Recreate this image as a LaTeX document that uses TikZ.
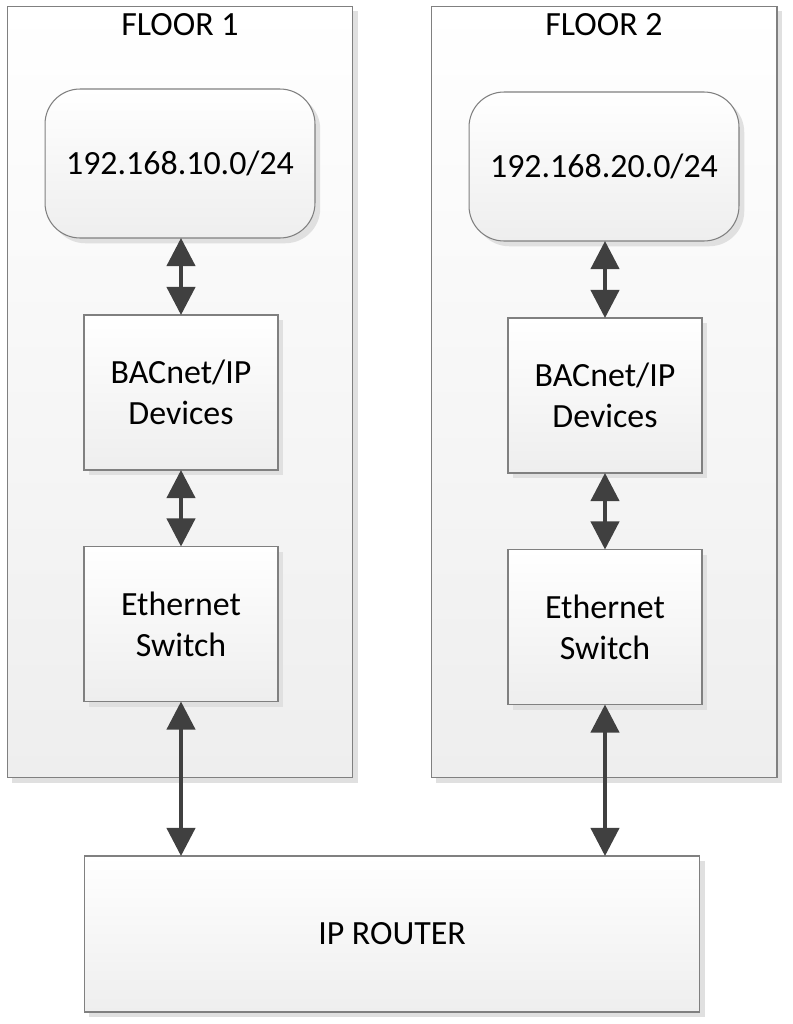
\documentclass[tikz,border=0pt]{standalone}
\usepackage{fontspec}
\setmainfont{Carlito}
\usetikzlibrary{arrows.meta, positioning, shadows}
\definecolor{framegray}{RGB}{128,128,128}
\definecolor{arrowgray}{RGB}{64,64,64}
\definecolor{shadegray}{RGB}{238,238,238}

\tikzset{
  panel/.style={draw=framegray, line width=0.6pt, shade, top color=white, bottom color=shadegray,
    minimum width=6.92cm, minimum height=15.44cm, inner sep=0pt, outer sep=0pt,
    drop shadow={shadow xshift=3pt, shadow yshift=-3pt, fill=black!12, opacity=1}},
  netbox/.style={draw=framegray, line width=0.6pt, shade, top color=white, bottom color=shadegray,
    rounded corners=0.7cm, minimum width=5.4cm, minimum height=2.98cm, outer sep=0pt,
    drop shadow={shadow xshift=3pt, shadow yshift=-3pt, fill=black!12, opacity=1}},
  devbox/.style={draw=framegray, line width=0.6pt, shade, top color=white, bottom color=shadegray,
    minimum width=3.88cm, minimum height=3.1cm, align=center, outer sep=0pt,
    drop shadow={shadow xshift=3pt, shadow yshift=-3pt, fill=black!12, opacity=1}},
  label/.style={align=center},
  link/.style={{Triangle[length=16pt,width=16pt]}-{Triangle[length=16pt,width=16pt]}, line width=2.3pt, arrowgray},
}

\begin{document}
\begin{tikzpicture}[x=0.02cm, y=-0.02cm, every node/.append style={font=\fontsize{19.3}{23.5}\selectfont}]
\useasboundingbox (0,0) rectangle (793,1024);

% floor panels
\node[panel] (floorA) at (180,392) {};
\node[panel] (floorB) at (604,392) {};
\node[label] (titleA) at (180,25) {FLOOR 1};
\node[label] (titleB) at (604,25) {FLOOR 2};

% subnets
\node[netbox] (netA) at (180,163.5) {192.168.10.0/24};
\node[netbox] (netB) at (604,166.5) {192.168.20.0/24};

% devices and switches
\node[devbox] (devA) at (181,392.5) {BACnet/IP\\Devices};
\node[devbox] (devB) at (605,395.5) {BACnet/IP\\Devices};
\node[devbox] (swA) at (181,624) {Ethernet\\Switch};
\node[devbox] (swB) at (605,627) {Ethernet\\Switch};

% router
\node[devbox, minimum width=12.32cm, minimum height=3.12cm] (router) at (392,934) {IP ROUTER};

% links
\draw[link] (devA.north |- netA.south) -- (devA.north);
\draw[link] (devB.north |- netB.south) -- (devB.north);
\draw[link] (devA.south) -- (swA.north);
\draw[link] (devB.south) -- (swB.north);
\draw[link] (swA.south) -- (swA.south |- router.north);
\draw[link] (swB.south) -- (swB.south |- router.north);
\end{tikzpicture}
\end{document}
